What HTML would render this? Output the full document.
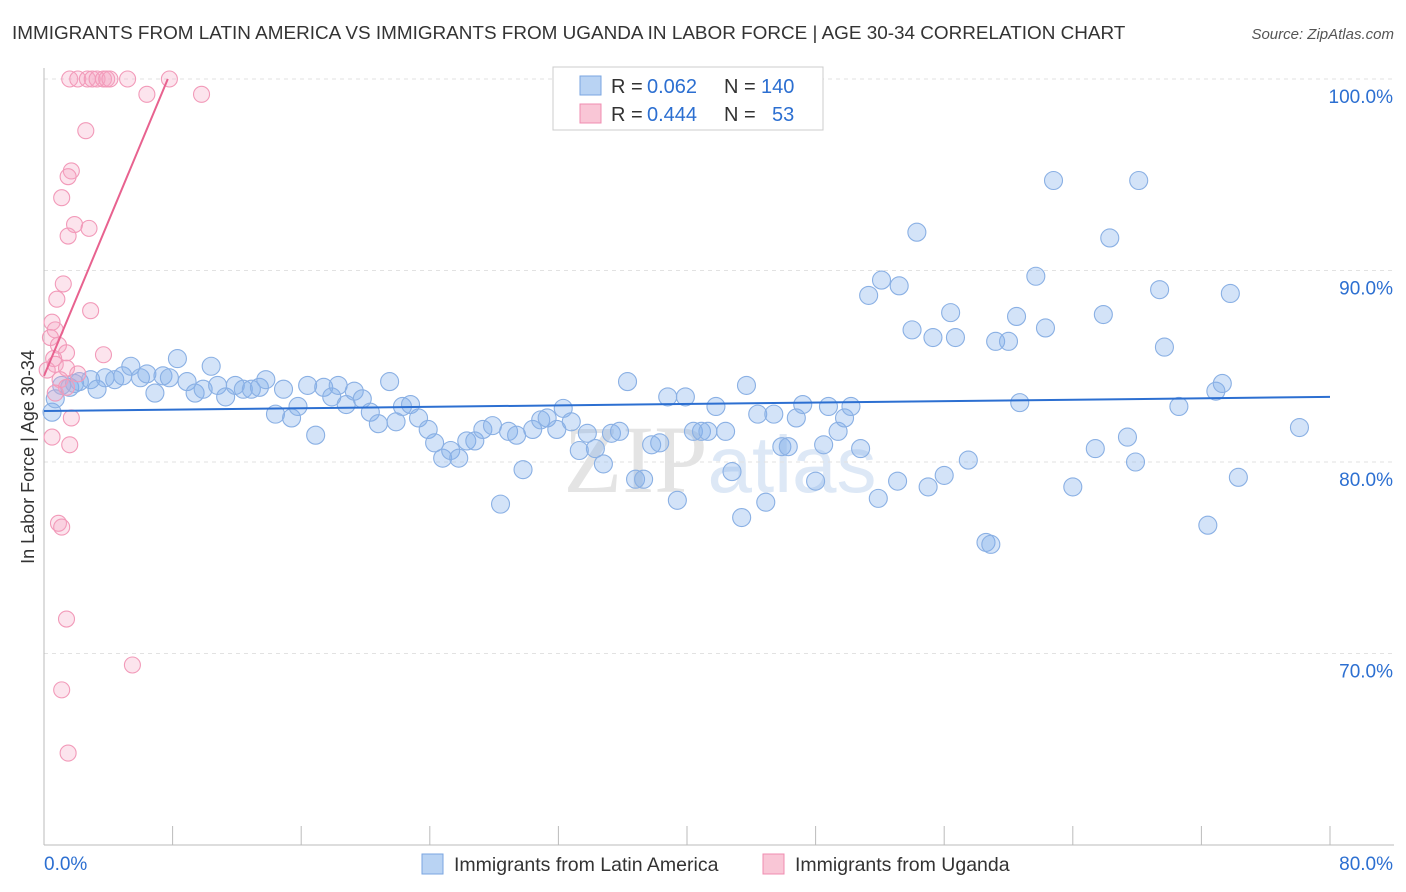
<!DOCTYPE html>
<html><head><meta charset="utf-8"><style>
body{margin:0;background:#fff;font-family:"Liberation Sans",sans-serif}
svg{display:block}
</style></head><body>
<svg id="chart" width="1406" height="892">
<text x="12" y="39" font-size="18.9" fill="#333">IMMIGRANTS FROM LATIN AMERICA VS IMMIGRANTS FROM UGANDA IN LABOR FORCE | AGE 30-34 CORRELATION CHART</text>
<text x="1394" y="39" font-size="15" fill="#555" font-style="italic" text-anchor="end">Source: ZipAtlas.com</text>
<text x="720" y="492" font-size="96" fill="#e4e4e4" text-anchor="middle" font-family="Liberation Serif,serif">ZIP<tspan fill="#dde8f6" font-family="Liberation Sans,sans-serif" font-size="80">atlas</tspan></text>
<g id="grid"></g><g id="axes"></g><g id="pts"></g><g id="trends"></g>
<text transform="translate(34,457) rotate(-90)" font-size="18" fill="#333" text-anchor="middle">In Labor Force | Age 30-34</text>
<g>
<rect x="553" y="67" width="270" height="63" fill="#fff" stroke="#ccc"/>
<rect x="580" y="76" width="21" height="19" fill="#b9d3f3" stroke="#7aa6e0"/>
<rect x="580" y="104" width="21" height="19" fill="#f9c6d6" stroke="#f08cb0"/>
<text x="611" y="93" font-size="20" fill="#333">R =</text>
<text x="647" y="93" font-size="20" fill="#2c6fd1">0.062</text>
<text x="724" y="93" font-size="20" fill="#333">N =</text>
<text x="761" y="93" font-size="20" fill="#2c6fd1">140</text>
<text x="611" y="121" font-size="20" fill="#333">R =</text>
<text x="647" y="121" font-size="20" fill="#2c6fd1">0.444</text>
<text x="724" y="121" font-size="20" fill="#333">N =</text>
<text x="772" y="121" font-size="20" fill="#2c6fd1">53</text>
</g>
<g>
<rect x="422" y="854" width="21" height="20" fill="#b9d3f3" stroke="#7aa6e0"/>
<text x="454" y="871" font-size="19.5" fill="#333">Immigrants from Latin America</text>
<rect x="763" y="854" width="21" height="20" fill="#f9c6d6" stroke="#f08cb0"/>
<text x="795" y="871" font-size="19.5" fill="#333">Immigrants from Uganda</text>
</g>
</svg>
<script>
const xTickVals=[0,8,16,24,32,40,48,56,64,72,80];
const yGridVals=[100,90,80,70];
const yTickLabels=["100.0%","90.0%","80.0%","70.0%"];
const xEndLabels=["0.0%","80.0%"];
const blueX=[0.5,0.7,1.1,1.6,1.9,2.2,2.9,3.3,3.8,4.4,4.9,5.4,6.0,6.4,6.9,7.4,7.8,8.3,8.9,9.4,9.9,10.4,10.8,11.3,11.9,12.4,12.9,13.4,13.8,14.4,14.9,15.4,15.8,16.4,16.9,17.4,17.9,18.3,18.8,19.3,19.8,20.3,20.8,21.5,21.9,22.3,22.8,23.3,23.9,24.3,24.8,25.3,25.8,26.3,26.8,27.3,27.9,28.4,28.9,29.4,29.8,30.4,30.9,31.3,31.9,32.3,32.8,33.3,33.8,34.3,34.8,35.3,35.8,36.3,36.8,37.3,37.8,38.3,38.8,39.4,39.9,40.4,40.9,41.3,41.8,42.4,42.8,43.4,43.7,44.4,44.9,45.4,45.9,46.3,46.8,47.2,48.0,48.5,48.8,49.4,49.8,50.2,50.8,51.3,51.9,52.1,53.1,53.2,54.0,54.3,55.0,55.3,56.0,56.4,56.7,57.5,58.6,58.9,59.2,60.0,60.5,60.7,61.7,62.3,62.8,64.0,65.4,65.9,66.3,67.4,67.9,68.1,69.4,69.7,70.6,72.4,72.9,73.3,73.8,74.3,78.1];
const blueY=[82.6,83.3,84.0,83.9,84.1,84.2,84.3,83.8,84.4,84.3,84.5,85.0,84.4,84.6,83.6,84.5,84.4,85.4,84.2,83.6,83.8,85.0,84.0,83.4,84.0,83.8,83.8,83.9,84.3,82.5,83.8,82.3,82.9,84.0,81.4,83.9,83.4,84.0,83.0,83.7,83.3,82.6,82.0,84.2,82.1,82.9,83.0,82.3,81.7,81.0,80.2,80.6,80.2,81.1,81.1,81.7,81.9,77.8,81.6,81.4,79.6,81.7,82.2,82.3,81.7,82.8,82.1,80.6,81.5,80.7,79.9,81.5,81.6,84.2,79.1,79.1,80.9,81.0,83.4,78.0,83.4,81.6,81.6,81.6,82.9,81.6,79.5,77.1,84.0,82.5,77.9,82.5,80.8,80.8,82.3,83.0,79.0,80.9,82.9,81.6,82.3,82.9,80.7,88.7,78.1,89.5,79.0,89.2,86.9,92.0,78.7,86.5,79.3,87.8,86.5,80.1,75.8,75.7,86.3,86.3,87.6,83.1,89.7,87.0,94.7,78.7,80.7,87.7,91.7,81.3,80.0,94.7,89.0,86.0,82.9,76.7,83.7,84.1,88.8,79.2,81.8];
const pinkX=[1.6,2.1,2.7,3.0,3.3,3.7,3.9,4.1,5.2,7.8,6.4,9.8,2.6,1.7,1.5,1.1,1.9,1.5,2.8,1.2,0.8,2.9,0.5,0.7,0.4,0.9,1.4,3.7,0.6,0.7,0.2,1.4,2.1,1.0,1.4,0.7,1.7,0.5,1.6,0.9,1.1,1.4,5.5,1.1,1.5];
const pinkY=[100,100,100,100,100,100,100,100,100,100,99.2,99.2,97.3,95.2,94.9,93.8,92.4,91.8,92.2,89.3,88.5,87.9,87.3,86.9,86.5,86.1,85.7,85.6,85.4,85.1,84.8,84.9,84.6,84.3,83.9,83.6,82.3,81.3,80.9,76.8,76.6,71.8,69.4,68.1,64.8];
const blueTrend=[[0,82.66],[80,83.4]];
const pinkTrend=[[0,84.5],[7.7,100]];
const NS="http://www.w3.org/2000/svg";
const sx=v=>44+v/80*1286;
const sy=v=>79+(100-v)*19.15;
function mk(t,a,p){const e=document.createElementNS(NS,t);for(const k in a)e.setAttribute(k,a[k]);p.appendChild(e);return e;}
const grid=document.getElementById('grid'),axes=document.getElementById('axes'),pts=document.getElementById('pts'),tr=document.getElementById('trends');
yGridVals.forEach((v,i)=>{
 const l=mk('line',{x1:44,x2:1394,y1:sy(v),y2:sy(v),stroke:'#e2e2e2','stroke-dasharray':'4,4'},grid);
 
 
 const t=mk('text',{x:1393,y:sy(v)+24,'font-size':19,fill:'#2c6fd1','text-anchor':'end'},axes);
 t.textContent=yTickLabels[i];
 
 
});
let a=mk('line',{x1:44,x2:44,y1:68,y2:845,stroke:'#bbb'},axes);


a=mk('line',{x1:44,x2:1394,y1:845,y2:845,stroke:'#bbb'},axes);


xTickVals.forEach(v=>{const l=mk('line',{x1:sx(v),x2:sx(v),y1:826,y2:845,stroke:'#bbb'},axes);
 
 });
let t=mk('text',{x:44,y:870,'font-size':19,fill:'#2c6fd1'},axes);t.textContent=xEndLabels[0];


t=mk('text',{x:1393,y:870,'font-size':19,fill:'#2c6fd1','text-anchor':'end'},axes);t.textContent=xEndLabels[1];


blueX.forEach((x,i)=>{const c=mk('circle',{cx:sx(x),cy:sy(blueY[i]),r:9,fill:'rgba(130,175,235,0.35)',stroke:'#8ab0e4','stroke-width':1.1},pts);
 
 });
pinkX.forEach((x,i)=>{const c=mk('circle',{cx:sx(x),cy:sy(pinkY[i]),r:8,fill:'rgba(245,165,195,0.3)',stroke:'#f29ab9','stroke-width':1.1},pts);
 
 });
let l=mk('line',{x1:sx(blueTrend[0][0]),y1:sy(blueTrend[0][1]),x2:sx(blueTrend[1][0]),y2:sy(blueTrend[1][1]),stroke:'#2c6fd1','stroke-width':2},tr);


l=mk('line',{x1:sx(pinkTrend[0][0]),y1:sy(pinkTrend[0][1]),x2:sx(pinkTrend[1][0]),y2:sy(pinkTrend[1][1]),stroke:'#e8628f','stroke-width':2},tr);


</script>
</body></html>
